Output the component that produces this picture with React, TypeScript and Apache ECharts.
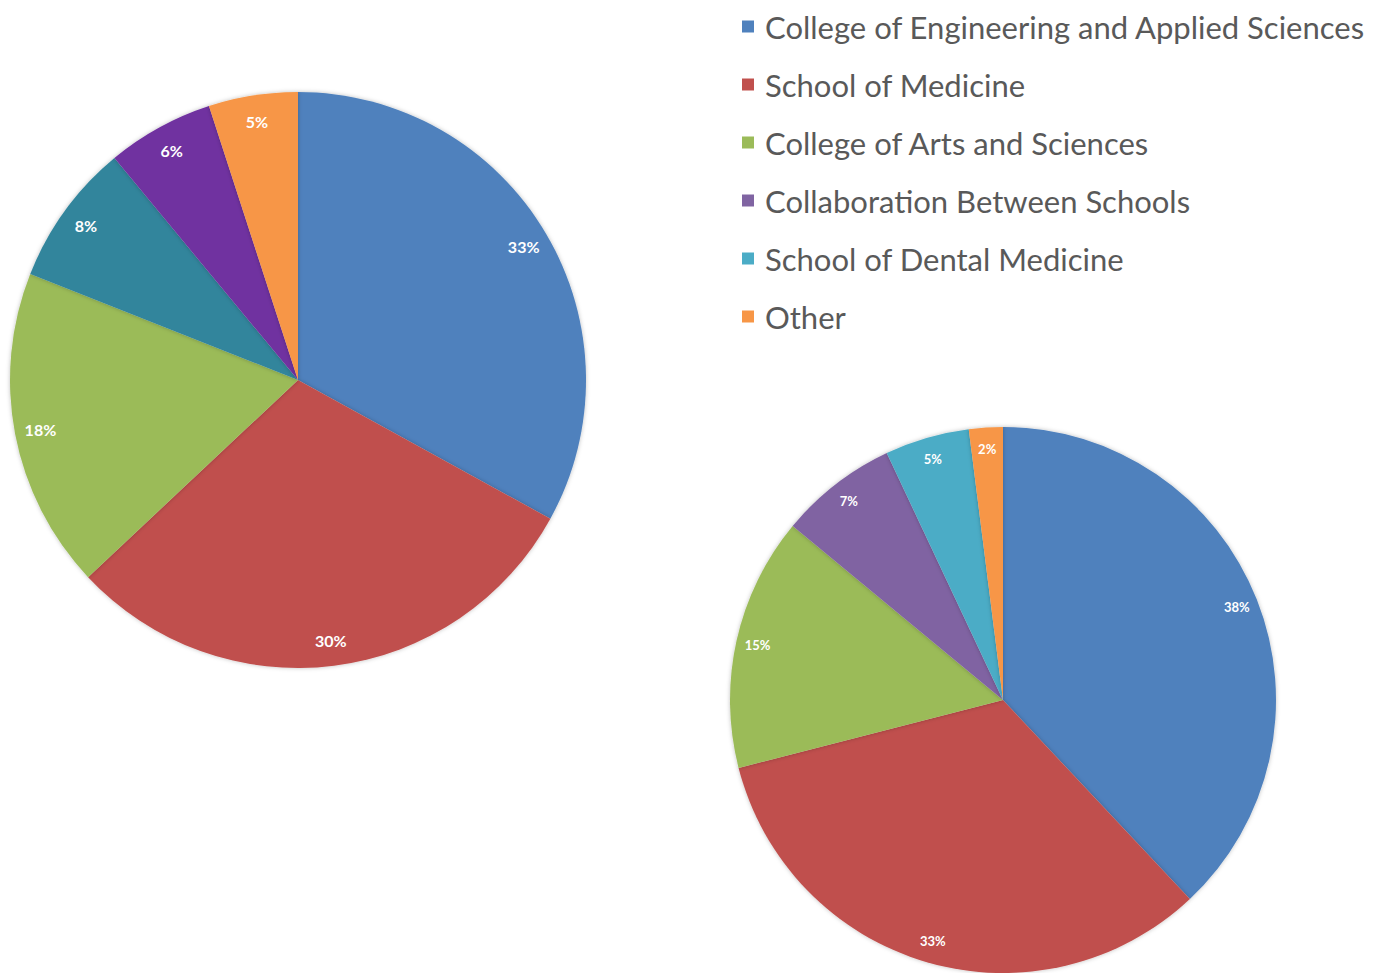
import React, { useEffect, useRef } from "react";
import * as echarts from "echarts";

const categories = [
  "College of Engineering and Applied Sciences",
  "School of Medicine",
  "College of Arts and Sciences",
  "Collaboration Between Schools",
  "School of Dental Medicine",
  "Other",
];

const leftValues = [33, 30, 18, 8, 6, 5];
const rightValues = [38, 33, 15, 7, 5, 2];

const leftColors = ["#4F81BD", "#C0504D", "#9BBB59", "#31859C", "#7030A0", "#F79646"];
const rightColors = ["#4F81BD", "#C0504D", "#9BBB59", "#8064A2", "#4BACC6", "#F79646"];

const W = 1383;
const H = 973;

const leftCenter = [298, 380];
const leftR = 288;
const rightCenter = [1003, 700];
const rightR = 273;

function makePie(values: number[], colors: string[], center: number[], r: number, fontSize: number, ratio: number) {
  const data = categories.map((name, i) => ({
    name,
    value: values[i],
    itemStyle: { color: colors[i] },
  }));
  const base = {
    type: "pie",
    center,
    startAngle: 90,
    clockwise: true,
    silent: true,
    legendHoverLink: false,
    selectedMode: false,
    emphasis: { disabled: true },
  };
  return [
    {
      ...base,
      radius: [0, r],
      data,
      label: { show: false },
      labelLine: { show: false },
      itemStyle: { borderWidth: 0, shadowBlur: 4, shadowColor: "rgba(0,0,0,0.25)" },
      z: 2,
    },
    {
      ...base,
      radius: [r * (2 * ratio - 1), r],
      data: data.map((d) => ({ ...d, itemStyle: { color: "rgba(0,0,0,0)" } })),
      itemStyle: { color: "rgba(0,0,0,0)", borderWidth: 0 },
      label: {
        show: true,
        position: "inside",
        formatter: "{c}%",
        color: "#ffffff",
        fontFamily: "Lato",
        fontWeight: "bold",
        fontSize,
      },
      labelLine: { show: false },
      z: 3,
    },
  ];
}

export default function App() {
  const ref = useRef<HTMLDivElement>(null);
  useEffect(() => {
    const chart = echarts.init(ref.current!, null, { renderer: "svg" });
    chart.setOption({
      animation: false,
      backgroundColor: "#ffffff",
      legend: {
        orient: "vertical",
        left: 737,
        top: 6,
        icon: "rect",
        itemWidth: 12,
        itemHeight: 12,
        itemGap: 27,
        selectedMode: false,
        data: categories.map((name, i) => ({ name, itemStyle: { color: rightColors[i] } })),
        textStyle: {
          color: "#595959",
          fontFamily: "Lato",
          fontSize: 31,
          lineHeight: 31,
          padding: [0, 0, 0, 6],
        },
      },
      series: [
        ...makePie(rightValues, rightColors, rightCenter, rightR, 13, 0.91),
        ...makePie(leftValues, leftColors, leftCenter, leftR, 16, 0.9),
      ],
    });
    return () => chart.dispose();
  }, []);
  return (
    <div
      ref={ref}
      style={{ position: "absolute", left: 0, top: 0, width: W, height: H }}
    />
  );
}
